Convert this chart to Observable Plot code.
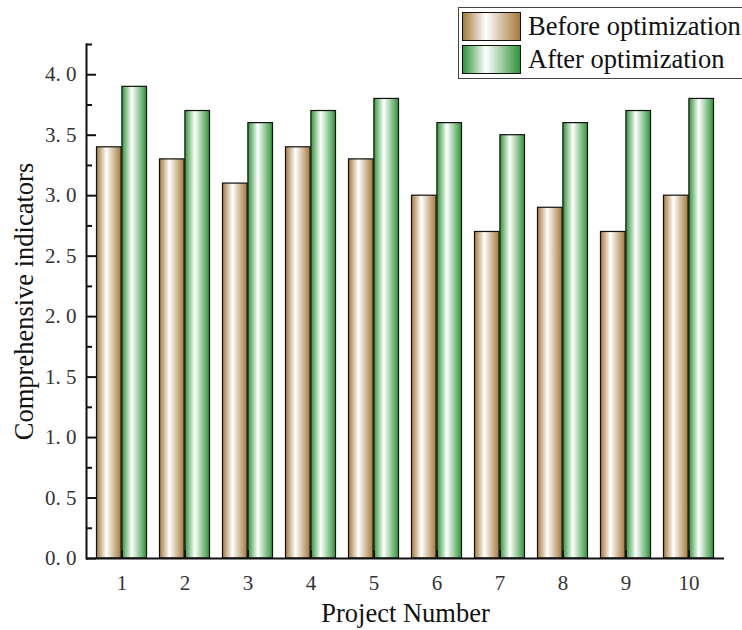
<!DOCTYPE html>
<html><head><meta charset="utf-8">
<script src="https://cdn.jsdelivr.net/npm/d3@7"></script>
<script src="https://cdn.jsdelivr.net/npm/@observablehq/plot@0.6"></script>
<style>
body{margin:0;background:#fff;}
#wrap{position:relative;width:742px;height:630px;font-family:"Liberation Serif","Times New Roman",serif;overflow:hidden;}
.legend{position:absolute;left:458px;top:7px;width:300px;height:72px;border:1.5px solid #444;box-sizing:border-box;background:#fff;}
.row{position:absolute;left:3px;height:30px;display:flex;align-items:center;}
.sw{width:59px;height:29px;border:1.5px solid #111;box-sizing:border-box;margin-right:7px;flex:none;}
.lab{font-size:26.5px;color:#111;font-family:"Liberation Serif",serif;white-space:nowrap;}
svg [aria-label="y-axis label"], svg [aria-label="x-axis label"]{font-size:26.5px;fill:#111;}
</style>
</head><body>
<div id="wrap"></div>
<script>
const projects = ["1","2","3","4","5","6","7","8","9","10"];
const beforeValues = [3.4, 3.3, 3.1, 3.4, 3.3, 3.0, 2.7, 2.9, 2.7, 3.0];
const afterValues  = [3.9, 3.7, 3.6, 3.7, 3.8, 3.6, 3.5, 3.6, 3.7, 3.8];
const seriesNames = ["Before optimization", "After optimization"];
const majorTicks = [0, 0.5, 1.0, 1.5, 2.0, 2.5, 3.0, 3.5, 4.0];
const minorTicks = [0.25, 0.75, 1.25, 1.75, 2.25, 2.75, 3.25, 3.75, 4.25];
const brown = "#a5793a", green = "#2e9538";

const data = projects.map((p, i) => ({project: p, before: beforeValues[i], after: afterValues[i]}));
const fmt = d => d.toFixed(1).replace(".", ".\u00a0");

const chart = Plot.plot({
  width: 742, height: 630,
  marginTop: 44, marginLeft: 86, marginRight: 18, marginBottom: 72,
  style: {fontFamily: '"Liberation Serif","Times New Roman",serif', fontSize: "21px", color: "#333", background: "#fff"},
  x: {type: "band", domain: projects, padding: 0},
  y: {domain: [0, 4.25]},
  marks: [
    Plot.barY(data, {x: "project", y: "before", fill: "url(#gBrown)", stroke: "#111", strokeWidth: 1.2, insetLeft: 6.5, insetRight: 31.9}),
    Plot.barY(data, {x: "project", y: "after", fill: "url(#gGreen)", stroke: "#111", strokeWidth: 1.2, insetLeft: 31.9, insetRight: 6.5}),
    Plot.ruleY([0], {stroke: "#111", strokeWidth: 2}),
    Plot.frame({anchor: "left", stroke: "#111", strokeWidth: 2}),
    Plot.axisY(minorTicks, {tickSize: -6, tickFormat: () => "", stroke: "#111", strokeWidth: 2, label: null}),
    Plot.axisY(majorTicks, {tickSize: -10, tickPadding: 20, tickFormat: fmt, stroke: "#111", strokeWidth: 2,
      label: "Comprehensive indicators", labelAnchor: "center", labelArrow: "none", labelOffset: 72}),
    Plot.axisX({tickSize: -8, tickPadding: 25, stroke: "#111", strokeWidth: 2,
      label: "Project Number", labelAnchor: "center", labelArrow: "none", labelOffset: 63})
  ]
});

chart.insertAdjacentHTML("afterbegin", `<defs>
  <linearGradient id="gBrown" x1="0" x2="1" y1="0" y2="0">
    <stop offset="0" stop-color="${brown}"/><stop offset="0.4" stop-color="#fff"/><stop offset="1" stop-color="${brown}"/>
  </linearGradient>
  <linearGradient id="gGreen" x1="0" x2="1" y1="0" y2="0">
    <stop offset="0" stop-color="${green}"/><stop offset="0.4" stop-color="#fff"/><stop offset="1" stop-color="${green}"/>
  </linearGradient></defs>`);

const wrap = document.getElementById("wrap");
wrap.appendChild(chart);

const legend = document.createElement("div");
legend.className = "legend";
[[brown, 0], [green, 1]].forEach(([c, i]) => {
  const row = document.createElement("div");
  row.className = "row";
  row.style.top = (3 + i * 33) + "px";
  row.innerHTML = `<div class="sw" style="background:linear-gradient(to right, ${c} 0%, #fff 40%, ${c} 100%)"></div><span class="lab">${seriesNames[i]}</span>`;
  legend.appendChild(row);
});
wrap.appendChild(legend);
</script>
</body></html>
